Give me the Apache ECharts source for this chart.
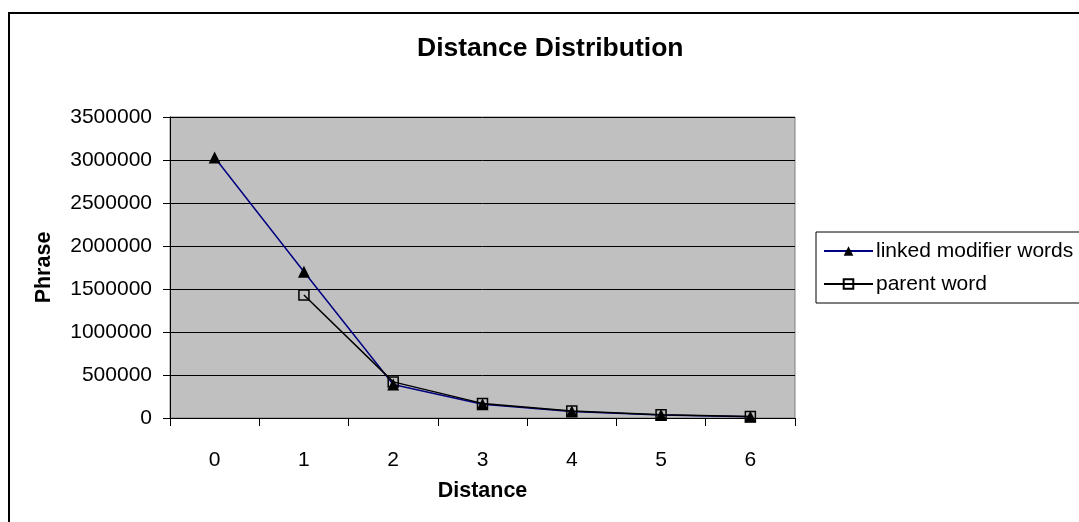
<!DOCTYPE html>
<html>
<head>
<meta charset="utf-8">
<script src="https://cdn.jsdelivr.net/npm/echarts@6/dist/echarts.min.js"></script>
<style>
html,body{margin:0;padding:0;background:#fff;}
#c{width:1079px;height:522px;}
</style>
</head>
<body>
<div id="c"></div>
<script>
const categories = ['0', '1', '2', '3', '4', '5', '6'];
const linkedModifierWords = [3030000, 1700000, 390000, 160000, 75000, 35000, 15000];
const parentWord = [null, 1430000, 420000, 170000, 80000, 38000, 18000];
const seriesNames = ['linked modifier words', 'parent word'];
const titleText = 'Distance Distribution';
const xName = 'Distance';
const yName = 'Phrase';

const chart = echarts.init(document.getElementById('c'), null, {renderer: 'canvas'});
const font = 'Liberation Sans, Arial, sans-serif';
chart.setOption({
  animation: false,
  backgroundColor: '#fff',
  textStyle: {fontFamily: font, color: '#000'},
  title: {
    text: titleText,
    left: 417, top: 35, padding: 0,
    textStyle: {fontSize: 26.5, fontWeight: 'bold', color: '#000', fontFamily: font}
  },
  graphic: [{
    type: 'rect', silent: true, z: -1,
    shape: {x: 9, y: 13, width: 1100, height: 540},
    style: {fill: 'none', stroke: '#000', lineWidth: 2}
  }],
  legend: {
    left: 816, top: 232, orient: 'vertical',
    backgroundColor: '#fff', borderColor: '#000', borderWidth: 1,
    padding: [8, 7, 8, 7], itemGap: 11, itemWidth: 49, itemHeight: 12,
    textStyle: {fontSize: 21, color: '#000', fontFamily: font, lineHeight: 22, padding: [0,0,0,-2]},
    data: seriesNames
  },
  grid: {
    left: 170, top: 117, right: 284, bottom: 104,
    show: true, backgroundColor: '#C0C0C0', borderColor: '#808080', borderWidth: 1
  },
  xAxis: {
    type: 'category', data: categories, boundaryGap: true,
    name: xName, nameLocation: 'middle', nameGap: 62,
    nameTextStyle: {fontSize: 21.5, fontWeight: 'bold', color: '#000', fontFamily: font},
    axisLine: {lineStyle: {color: '#000', width: 1}},
    axisTick: {show: true, length: 8, alignWithLabel: false, lineStyle: {color: '#000'}},
    axisLabel: {fontSize: 21, color: '#000', margin: 32, fontFamily: font},
    splitLine: {show: false}
  },
  yAxis: {
    type: 'value', min: 0, max: 3500000, interval: 500000,
    name: yName, nameLocation: 'middle', nameGap: 115, nameRotate: 90,
    nameTextStyle: {fontSize: 21.5, fontWeight: 'bold', color: '#000', fontFamily: font},
    axisLine: {show: true, lineStyle: {color: '#000', width: 1}},
    axisTick: {show: true, length: 7, lineStyle: {color: '#000'}},
    axisLabel: {fontSize: 21, color: '#000', margin: 18, fontFamily: font, formatter: function (v) { return String(v); }},
    splitLine: {show: true, lineStyle: {color: '#000', width: 1}}
  },
  series: [{
    name: seriesNames[0], type: 'line', data: linkedModifierWords,
    symbol: 'triangle', symbolSize: 12, showAllSymbol: true,
    lineStyle: {color: '#000080', width: 1.5},
    itemStyle: {color: '#000', borderColor: '#000', borderWidth: 0},
    z: 3
  }, {
    name: seriesNames[1], type: 'line', data: parentWord,
    symbol: 'rect', symbolSize: 10, showAllSymbol: true,
    lineStyle: {color: '#000', width: 1.5},
    itemStyle: {color: 'rgba(0,0,0,0)', borderColor: '#000', borderWidth: 1.5},
    z: 4
  }]
});
</script>
</body>
</html>
